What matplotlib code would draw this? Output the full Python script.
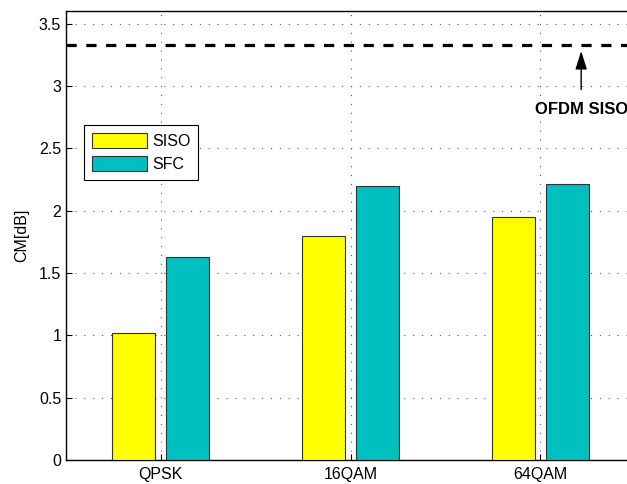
import numpy as np
import matplotlib
matplotlib.use("Agg")
import matplotlib.pyplot as plt

plt.rcParams['font.family'] = ['Liberation Sans', 'DejaVu Sans']

# CM per modulation scheme
modulations = ['QPSK', '16QAM', '64QAM']
cm_siso = [1.02, 1.80, 1.95]
cm_sfc = [1.63, 2.20, 2.21]
ofdm_siso_cm = 3.33

fig = plt.figure(figsize=(6.27, 4.84), dpi=100)
ax = fig.add_axes([0.1053, 0.0496, 0.9075, 0.9275])

x = np.arange(1, len(modulations) + 1)
width = 0.226
offset = 0.142

ax.bar(x - offset, cm_siso, width, color='#ffff00', edgecolor='#333333',
       linewidth=0.8, label='SISO', zorder=3)
ax.bar(x + offset, cm_sfc, width, color='#00bfbf', edgecolor='#333333',
       linewidth=0.8, label='SFC', zorder=3)

# reference line for plain OFDM
ax.axhline(ofdm_siso_cm, color='black', linewidth=2.3,
           linestyle=(0, (3.2, 3.0)), zorder=4)
ax.annotate('OFDM SISO', xy=(3.216, ofdm_siso_cm - 0.05), xytext=(3.216, 2.81),
            ha='center', va='center', fontsize=12, fontweight='bold',
            arrowprops=dict(arrowstyle='-|>,head_length=0.7,head_width=0.22',
                            color='black', lw=1.0,
                            mutation_scale=16, shrinkA=7, shrinkB=0),
            annotation_clip=False)

ax.set_xlim(0.5, 3.5)
ax.set_ylim(0, 3.6)
ax.set_xticks(x)
ax.set_xticklabels(modulations)
ax.set_yticks(np.arange(0, 3.51, 0.5))
ax.set_yticklabels(['0', '0.5', '1', '1.5', '2', '2.5', '3', '3.5'])
ax.set_ylabel('CM[dB]', fontsize=11.5, labelpad=7)

ax.tick_params(direction='in', length=4, labelsize=11.5, width=0.8,
               top=False, right=False)
ax.tick_params(axis='x', pad=5)
ax.grid(True, linestyle=(0, (1, 7)), color='#555555', linewidth=0.8, zorder=0)
for s in ax.spines.values():
    s.set_linewidth(1.0)

leg = ax.legend(loc='upper left', bbox_to_anchor=(0.032, 0.746),
                borderaxespad=0, fontsize=11.5, fancybox=False, framealpha=1,
                edgecolor='black', handlelength=3.4, handleheight=1.1,
                borderpad=0.5, labelspacing=0.4, handletextpad=0.35)
leg.get_frame().set_linewidth(0.8)

fig.savefig('out.png', dpi=100)
